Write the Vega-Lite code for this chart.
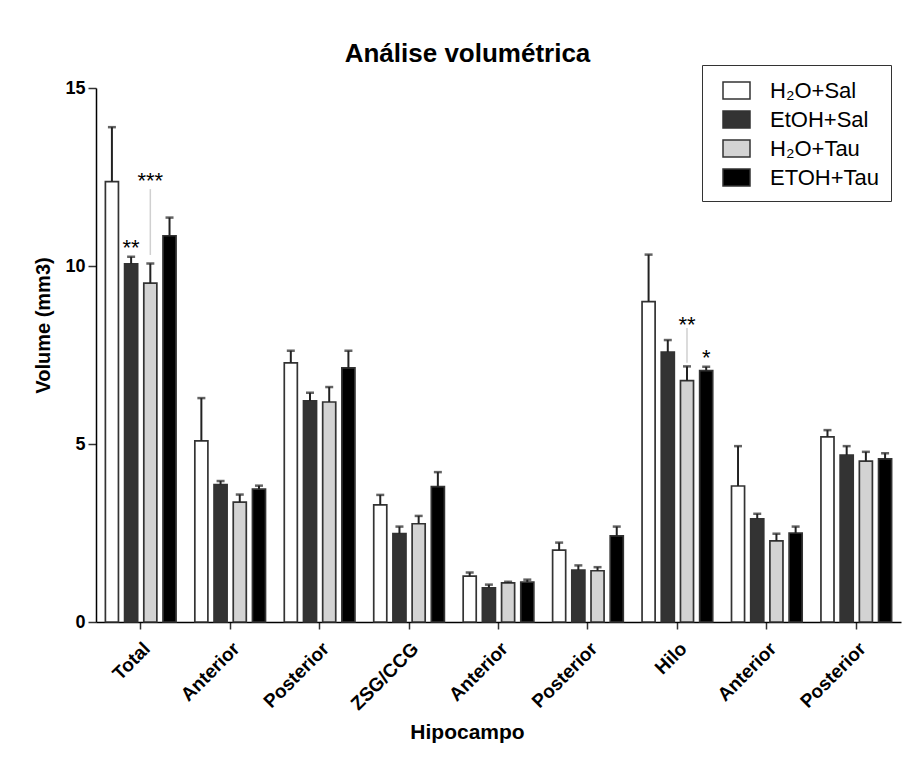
{
  "$schema": "https://vega.github.io/schema/vega-lite/v6.json",
  "autosize": {"type": "none"},
  "padding": {"left": 96, "top": 88, "right": 5, "bottom": 138},
  "width": 805,
  "height": 534,
  "background": "white",
  "config": {
    "view": {"stroke": null},
    "font": "Liberation Sans"
  },
  "title": {
    "text": "Análise volumétrica",
    "font": "Liberation Sans",
    "fontSize": 26,
    "fontWeight": "bold",
    "color": "black",
    "anchor": "middle",
    "dx": -31,
    "offset": -2
  },
  "datasets": {
    "bars": [
      {"cat": "Total", "group": "H₂O+Sal", "mean": 12.37, "upper": 13.90},
      {"cat": "Total", "group": "EtOH+Sal", "mean": 10.06, "upper": 10.26},
      {"cat": "Total", "group": "H₂O+Tau", "mean": 9.52, "upper": 10.07},
      {"cat": "Total", "group": "ETOH+Tau", "mean": 10.85, "upper": 11.36},
      {"cat": "Anterior|1", "group": "H₂O+Sal", "mean": 5.09, "upper": 6.29},
      {"cat": "Anterior|1", "group": "EtOH+Sal", "mean": 3.86, "upper": 3.96},
      {"cat": "Anterior|1", "group": "H₂O+Tau", "mean": 3.37, "upper": 3.58},
      {"cat": "Anterior|1", "group": "ETOH+Tau", "mean": 3.73, "upper": 3.83},
      {"cat": "Posterior|1", "group": "H₂O+Sal", "mean": 7.28, "upper": 7.62},
      {"cat": "Posterior|1", "group": "EtOH+Sal", "mean": 6.21, "upper": 6.44},
      {"cat": "Posterior|1", "group": "H₂O+Tau", "mean": 6.18, "upper": 6.60},
      {"cat": "Posterior|1", "group": "ETOH+Tau", "mean": 7.14, "upper": 7.62},
      {"cat": "ZSG/CCG", "group": "H₂O+Sal", "mean": 3.29, "upper": 3.57},
      {"cat": "ZSG/CCG", "group": "EtOH+Sal", "mean": 2.48, "upper": 2.68},
      {"cat": "ZSG/CCG", "group": "H₂O+Tau", "mean": 2.76, "upper": 2.98},
      {"cat": "ZSG/CCG", "group": "ETOH+Tau", "mean": 3.80, "upper": 4.21},
      {"cat": "Anterior|2", "group": "H₂O+Sal", "mean": 1.29, "upper": 1.39},
      {"cat": "Anterior|2", "group": "EtOH+Sal", "mean": 0.96, "upper": 1.05},
      {"cat": "Anterior|2", "group": "H₂O+Tau", "mean": 1.10, "upper": 1.13},
      {"cat": "Anterior|2", "group": "ETOH+Tau", "mean": 1.12, "upper": 1.19},
      {"cat": "Posterior|2", "group": "H₂O+Sal", "mean": 2.02, "upper": 2.23},
      {"cat": "Posterior|2", "group": "EtOH+Sal", "mean": 1.46, "upper": 1.59},
      {"cat": "Posterior|2", "group": "H₂O+Tau", "mean": 1.44, "upper": 1.54},
      {"cat": "Posterior|2", "group": "ETOH+Tau", "mean": 2.42, "upper": 2.68},
      {"cat": "Hilo", "group": "H₂O+Sal", "mean": 9.00, "upper": 10.32},
      {"cat": "Hilo", "group": "EtOH+Sal", "mean": 7.58, "upper": 7.92},
      {"cat": "Hilo", "group": "H₂O+Tau", "mean": 6.78, "upper": 7.18},
      {"cat": "Hilo", "group": "ETOH+Tau", "mean": 7.06, "upper": 7.17},
      {"cat": "Anterior|3", "group": "H₂O+Sal", "mean": 3.82, "upper": 4.94},
      {"cat": "Anterior|3", "group": "EtOH+Sal", "mean": 2.90, "upper": 3.04},
      {"cat": "Anterior|3", "group": "H₂O+Tau", "mean": 2.28, "upper": 2.48},
      {"cat": "Anterior|3", "group": "ETOH+Tau", "mean": 2.50, "upper": 2.68},
      {"cat": "Posterior|3", "group": "H₂O+Sal", "mean": 5.20, "upper": 5.39},
      {"cat": "Posterior|3", "group": "EtOH+Sal", "mean": 4.69, "upper": 4.94},
      {"cat": "Posterior|3", "group": "H₂O+Tau", "mean": 4.52, "upper": 4.78},
      {"cat": "Posterior|3", "group": "ETOH+Tau", "mean": 4.58, "upper": 4.74}
    ],
    "siglines": [
      {"cat": "Total", "group": "H₂O+Tau", "y1": 12.16, "y2": 10.31},
      {"cat": "Hilo", "group": "H₂O+Tau", "y1": 8.26, "y2": 7.28}
    ],
    "stars": [
      {"cat": "Total", "group": "EtOH+Sal", "y": 10.62, "label": "**"},
      {"cat": "Total", "group": "H₂O+Tau", "y": 12.51, "label": "***"},
      {"cat": "Hilo", "group": "H₂O+Tau", "y": 8.46, "label": "**"},
      {"cat": "Hilo", "group": "ETOH+Tau", "y": 7.53, "label": "*"}
    ]
  },
  "encoding": {
    "x": {
      "field": "cat",
      "type": "nominal",
      "scale": {
        "domain": ["Total", "Anterior|1", "Posterior|1", "ZSG/CCG", "Anterior|2", "Posterior|2", "Hilo", "Anterior|3", "Posterior|3"],
        "paddingInner": 0.21,
        "paddingOuter": 0.105
      },
      "axis": {
        "title": "Hipocampo",
        "titleFont": "Liberation Sans",
        "titleFontSize": 21,
        "titleFontWeight": "bold",
        "titleColor": "black",
        "titleX": 371,
        "titleY": 116,
        "titleAlign": "center",
        "titleBaseline": "alphabetic",
        "labelExpr": "split(datum.label, '|')[0]",
        "labelAngle": -45,
        "labelAlign": "right",
        "labelBaseline": "top",
        "labelPadding": 10,
        "labelDx": -8,
        "labelFont": "Liberation Sans",
        "labelFontSize": 19,
        "labelFontWeight": "bold",
        "labelColor": "black",
        "tickSize": 7,
        "tickWidth": 1.5,
        "tickColor": "#333",
        "domainColor": "black",
        "domainWidth": 1.5
      }
    },
    "xOffset": {
      "field": "group",
      "type": "nominal",
      "scale": {
        "domain": ["H₂O+Sal", "EtOH+Sal", "H₂O+Tau", "ETOH+Tau"],
        "paddingInner": 0.32,
        "paddingOuter": 0
      }
    }
  },
  "layer": [
    {
      "data": {"name": "bars"},
      "mark": {"type": "bar", "stroke": "#333", "strokeWidth": 1.7},
      "encoding": {
        "y": {
          "field": "mean",
          "type": "quantitative",
          "scale": {"domain": [0, 15], "nice": false},
          "axis": {
            "title": "Volume (mm3)",
            "titleFont": "Liberation Sans",
            "titleFontSize": 20,
            "titleFontWeight": "bold",
            "titleColor": "black",
            "titleX": -53,
            "titleY": 237,
            "titleAngle": -90,
            "titleAlign": "center",
            "titleBaseline": "middle",
            "values": [0, 5, 10, 15],
            "grid": false,
            "tickSize": 8,
            "tickWidth": 1.5,
            "tickColor": "#333",
            "domainColor": "black",
            "domainWidth": 1.5,
            "labelFont": "Liberation Sans",
            "labelFontSize": 18,
            "labelFontWeight": "bold",
            "labelColor": "black",
            "labelPadding": 3
          }
        },
        "fill": {
          "field": "group",
          "type": "nominal",
          "scale": {
            "domain": ["H₂O+Sal", "EtOH+Sal", "H₂O+Tau", "ETOH+Tau"],
            "range": ["#ffffff", "#333333", "#d3d3d3", "#000000"]
          },
          "legend": {
            "title": null,
            "orient": "none",
            "legendX": 606,
            "legendY": -23,
            "strokeColor": "#333",
            "fillColor": "white",
            "padding": 11,
            "symbolOffset": 9,
            "symbolType": "M-1,-0.63H1V0.63H-1Z",
            "symbolSize": 729,
            "symbolStrokeColor": "#333",
            "symbolStrokeWidth": 1.5,
            "labelOffset": 19,
            "labelFont": "Liberation Sans",
            "labelFontSize": 22,
            "labelColor": "black",
            "rowPadding": 2
          }
        }
      }
    },
    {
      "data": {"name": "bars"},
      "mark": {"type": "rule", "color": "#222", "strokeWidth": 2},
      "encoding": {
        "y": {"field": "mean", "type": "quantitative"},
        "y2": {"field": "upper"}
      }
    },
    {
      "data": {"name": "bars"},
      "mark": {"type": "tick", "orient": "horizontal", "color": "#222", "size": 8, "thickness": 2.5},
      "encoding": {
        "y": {"field": "upper", "type": "quantitative"}
      }
    },
    {
      "data": {"name": "siglines"},
      "mark": {"type": "rule", "color": "#d0d0d0", "strokeWidth": 1.5},
      "encoding": {
        "y": {"field": "y1", "type": "quantitative"},
        "y2": {"field": "y2"}
      }
    },
    {
      "data": {"name": "stars"},
      "mark": {"type": "text", "font": "Liberation Sans", "fontSize": 22, "color": "black", "baseline": "alphabetic", "align": "center", "dy": 11},
      "encoding": {
        "y": {"field": "y", "type": "quantitative"},
        "text": {"field": "label"}
      }
    }
  ]
}
